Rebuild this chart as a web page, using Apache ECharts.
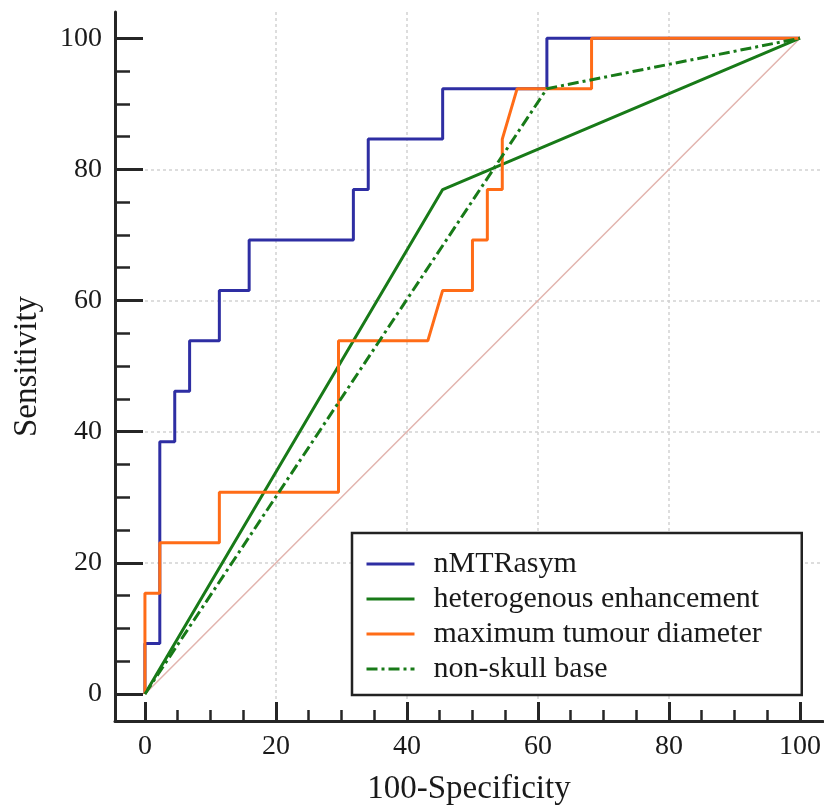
<!DOCTYPE html>
<html>
<head>
<meta charset="utf-8">
<script src="https://cdn.jsdelivr.net/npm/echarts@6/dist/echarts.min.js"></script>
<style>html,body{margin:0;padding:0;background:#fff}#c{width:824px;height:812px}</style>
</head>
<body>
<div id="c"></div>
<script>
// Tick labels
const xTicks = [0, 20, 40, 60, 80, 100];
const yTicks = [0, 20, 40, 60, 80, 100];
const seriesNames = ['nMTRasym', 'heterogenous enhancement', 'maximum tumour diameter', 'non-skull base'];

// nMTRasym ROC (100-Specificity, Sensitivity)
const nmtrX = [0, 0, 2.27, 2.27, 4.55, 4.55, 6.82, 6.82, 11.36, 11.36, 15.91, 15.91, 31.82, 31.82, 34.09, 34.09, 45.45, 45.45, 61.36, 61.36, 100];
const nmtrY = [0, 7.69, 7.69, 38.46, 38.46, 46.15, 46.15, 53.85, 53.85, 61.54, 61.54, 69.23, 69.23, 76.92, 76.92, 84.62, 84.62, 92.31, 92.31, 100, 100];

// heterogenous enhancement
const heteroX = [0, 45.45, 100];
const heteroY = [0, 76.92, 100];

// maximum tumour diameter
const diamX = [0, 0, 2.27, 2.27, 11.36, 11.36, 29.55, 29.55, 43.18, 45.45, 50, 50, 52.27, 52.27, 54.55, 54.55, 56.82, 68.18, 68.18, 100];
const diamY = [0, 15.38, 15.38, 23.08, 23.08, 30.77, 30.77, 53.85, 53.85, 61.54, 61.54, 69.23, 69.23, 76.92, 76.92, 84.62, 92.31, 92.31, 100, 100];

// non-skull base
const skullX = [0, 61.36, 100];
const skullY = [0, 92.31, 100];

// reference diagonal
const refX = [0, 100];
const refY = [0, 100];

function pairs(xs, ys) { return xs.map((x, i) => [x, ys[i]]); }

const FONT = '"Liberation Serif", "DejaVu Serif", serif';
const AX = '#262626';

const chart = echarts.init(document.getElementById('c'), null, {renderer: 'canvas'});

function axisCommon(ticks, tickLen, minorLen) {
  return {
    type: 'value',
    splitNumber: 5,
    axisLine: {show: true, onZero: false, lineStyle: {color: AX, width: 3}},
    axisTick: {show: true, inside: true, length: tickLen, customValues: ticks, lineStyle: {color: AX, width: 3}},
    minorTick: {show: true, splitNumber: 4, length: minorLen, lineStyle: {color: AX, width: 2.5}},
    splitLine: {show: true, showMinLine: false, showMaxLine: false, lineStyle: {color: '#d2d2d2', width: 1.5, type: [3, 3]}},
    minorSplitLine: {show: false},
    nameTextStyle: {color: '#1a1a1a', fontFamily: FONT, fontSize: 33}
  };
}

const lineW = 3;
const option = {
  animation: false,
  backgroundColor: '#fff',
  grid: {left: 115, right: 0, top: 12, bottom: 91, containLabel: false},
  xAxis: Object.assign(axisCommon(xTicks, 19, 11), {
    min: -4.57, max: 103.5,
    name: '100-Specificity', nameLocation: 'middle', nameGap: 52,
    axisLabel: {customValues: xTicks, color: '#1a1a1a', fontFamily: FONT, fontSize: 28, margin: 12}
  }),
  yAxis: Object.assign(axisCommon(yTicks, 28, 15), {
    min: -4.12, max: 104,
    name: 'Sensitivity', nameLocation: 'middle', nameGap: 71,
    axisLabel: {customValues: yTicks, color: '#1a1a1a', fontFamily: FONT, fontSize: 28, margin: 13}
  }),
  legend: {
    data: seriesNames,
    orient: 'vertical',
    left: 352, top: 533,
    padding: [16, 40, 11, 13],
    itemWidth: 48, itemHeight: 14, itemGap: 5,
    backgroundColor: '#fff',
    borderColor: '#222', borderWidth: 2.5, borderRadius: 0,
    itemStyle: {opacity: 0},
    lineStyle: {width: 3},
    textStyle: {color: '#1a1a1a', fontFamily: FONT, fontSize: 30, padding: [0, 0, 0, 14]}
  },
  series: [
    {name: 'reference', type: 'line', data: pairs(refX, refY), symbol: 'none', silent: true,
     lineStyle: {color: '#e2b4ae', width: 1.5}, z: 1},
    {name: seriesNames[0], type: 'line', data: pairs(nmtrX, nmtrY), symbol: 'none',
     lineStyle: {color: '#2e2ea3', width: lineW}, itemStyle: {color: '#2e2ea3'}, z: 2},
    {name: seriesNames[1], type: 'line', data: pairs(heteroX, heteroY), symbol: 'none',
     lineStyle: {color: '#187a18', width: lineW}, itemStyle: {color: '#187a18'}, z: 3},
    {name: seriesNames[2], type: 'line', data: pairs(diamX, diamY), symbol: 'none',
     lineStyle: {color: '#ff6c17', width: lineW}, itemStyle: {color: '#ff6c17'}, z: 4},
    {name: seriesNames[3], type: 'line', data: pairs(skullX, skullY), symbol: 'none',
     lineStyle: {color: '#187a18', width: lineW, type: [11, 4, 3, 4]}, itemStyle: {color: '#187a18'}, z: 5}
  ]
};
chart.setOption(option);
</script>
</body>
</html>
